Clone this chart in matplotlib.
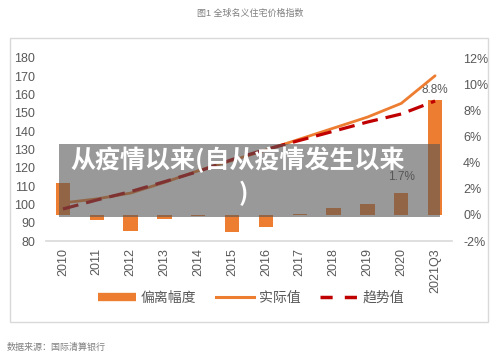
import matplotlib
matplotlib.use("Agg")
import matplotlib.pyplot as plt
from matplotlib.lines import Line2D
from matplotlib.patches import Rectangle
import numpy as np

plt.rcParams["font.family"] = ["Liberation Sans", "Noto Sans CJK SC", "DejaVu Sans"]

# data
years = ["2010", "2011", "2012", "2013", "2014", "2015",
         "2016", "2017", "2018", "2019", "2020", "2021Q3"]
deviation = [2.4, -0.4, -1.2, -0.35, -0.1, -1.3, -0.95, 0.1, 0.55, 0.8, 1.7, 8.8]
actual = [100.8, 103.0, 106.2, 112.0, 118.4, 124.0, 129.7, 135.7, 141.7, 147.7, 155.2, 170.3]
trend = [97.5, 102.4, 107.0, 112.4, 118.0, 124.5, 130.0, 135.0, 140.0, 145.0, 149.4, 156.5]

orange = "#ED7D31"
darkred = "#C00000"
gray = "#595959"

fig = plt.figure(figsize=(5, 3.62), dpi=100)
W, H = 500, 362

# outer frame
fig.add_artist(Rectangle((10 / W, 1 - 322 / H), 478 / W, 284 / H,
                         transform=fig.transFigure, fill=False,
                         edgecolor="#D9D9D9", linewidth=1.0))
fig.text(0.5, 1 - 13 / H, "图1 全球名义住宅价格指数", ha="center", va="center",
         fontsize=6.5, color="#7F7F7F")
fig.text(7 / W, 1 - 347 / H, "数据来源：国际清算银行", ha="left", va="center",
         fontsize=6.5, color="#7F7F7F")

ax = fig.add_axes([46 / W, 1 - 241 / H, 406 / W, 183 / H])
ax2 = ax.twinx()
x = np.arange(len(years))

ax2.bar(x, deviation, width=0.42, color=orange, zorder=1)
ax2.text(x[-1], deviation[-1] + 0.3, "8.8%", ha="center", va="bottom",
         fontsize=8.5, color=gray)
ax2.text(x[-2], deviation[-2] + 0.7, "1.7%", ha="center", va="bottom",
         fontsize=8.5, color=gray)

ax.set_zorder(ax2.get_zorder() + 1)
ax.patch.set_visible(False)
ax.plot(x, actual, color=orange, linewidth=2.0, solid_capstyle="round")
ax.plot(x, trend, color=darkred, linewidth=2.3, dashes=(5, 2.5))

ax.set_xlim(-0.5, len(years) - 0.5)
ax.set_ylim(80, 180)
ax.set_yticks(range(80, 181, 10))
ax2.set_ylim(-2, 12)
ax2.set_yticks(range(-2, 13, 2))
ax2.set_yticklabels([f"{v}%" for v in range(-2, 13, 2)])

ax.set_xticks(x)
ax.set_xticklabels(years, rotation=90)

for a in (ax, ax2):
    for s in a.spines.values():
        s.set_visible(False)
    a.tick_params(length=0, labelsize=9, labelcolor=gray)
ax.spines["bottom"].set_visible(True)
ax.spines["bottom"].set_color("#D9D9D9")
ax.spines["bottom"].set_linewidth(1.2)
ax.tick_params(axis="y", pad=8)
ax.tick_params(axis="x", pad=5)
ax2.tick_params(axis="y", pad=8)

handles = [
    Line2D([], [], color=orange, linewidth=6, solid_capstyle="butt"),
    Line2D([], [], color=orange, linewidth=2.2),
    Line2D([], [], color=darkred, linewidth=2.5, dashes=(3.5, 3.5)),
]
fig.legend(handles, ["偏离幅度", "实际值", "趋势值"], loc="center",
           bbox_to_anchor=(251 / W, 1 - 298 / H), ncol=3, frameon=False,
           fontsize=10, handlelength=2.8, columnspacing=1.4, handletextpad=0.3,
           labelcolor=gray)

# grey banner over the chart
fig.add_artist(Rectangle((59 / W, 1 - 217 / H), 381 / W, 73 / H,
                         transform=fig.transFigure, facecolor="#555555",
                         alpha=0.6, edgecolor="none", zorder=10))
fig.text(70 / W, 1 - 160 / H, "从疫情以来(自从疫情发生以来", ha="left", va="center",
         fontsize=18, color="white", fontweight="bold", zorder=11,
         family=["Noto Sans CJK SC", "DejaVu Sans"])
fig.text(243 / W, 1 - 193 / H, ")", ha="center", va="center",
         fontsize=18, color="white", fontweight="bold", zorder=11,
         family=["Noto Sans CJK SC", "DejaVu Sans"])

fig.savefig("out.png", dpi=100)
